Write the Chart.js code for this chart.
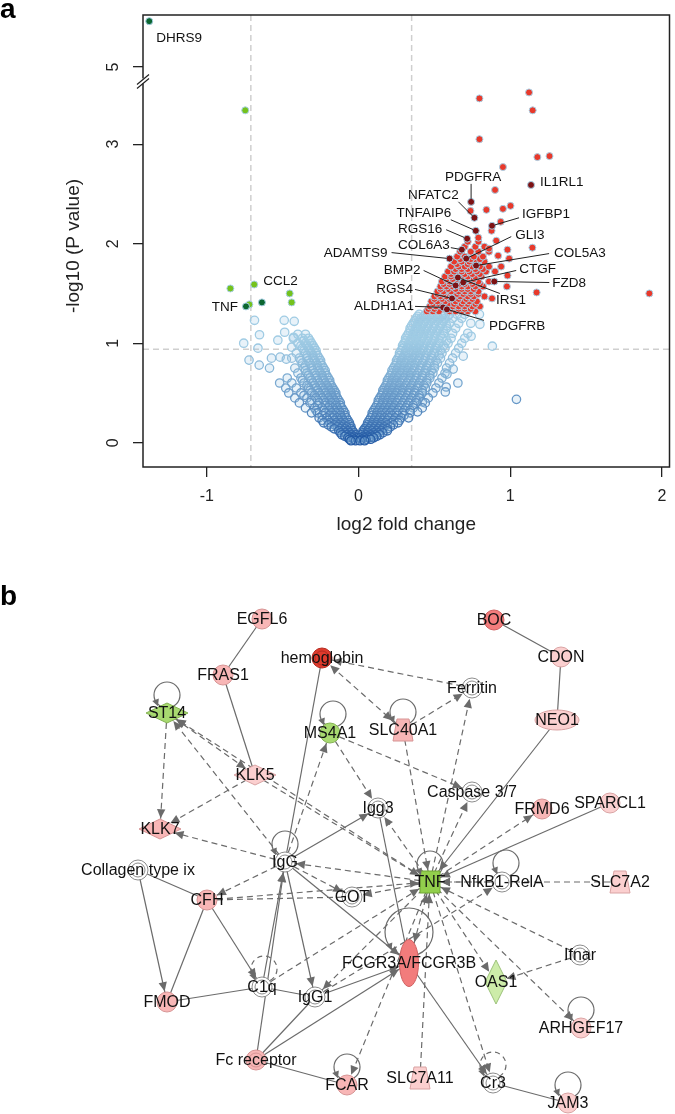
<!DOCTYPE html>
<html>
<head>
    <meta charset="utf-8">
    <title>Volcano plot and IPA network</title>
    <script src="https://cdn.jsdelivr.net/npm/chart.js@4.4.1/dist/chart.umd.min.js"></script>
    <style>
        body { margin: 0; background: #fff; }
        #wrap { position: relative; width: 675px; height: 1114px; }
        canvas { position: absolute; left: 0; }
        #volcano { top: 0; }
        #network { top: 560px; }
    </style>
</head>
<body>
<div id="wrap">
    <canvas id="volcano" width="675" height="560"></canvas>
    <canvas id="network" width="675" height="554"></canvas>
</div>

<script>
    // ---------------- panel a : volcano plot ----------------
    const xTicks = [-1, 0, 1, 2];
    const yTicks = [0, 1, 2, 3, 5];
    const fcCut = [-0.71, 0.35];
    const pCut = 0.94;

    // non significant genes, rows of [-log10 p, [log2 fc, ...]]
    const leftArmRows = [
        [0.02, [-0.02, -0.05]],
        [0.035, [-0.03, -0.06]],
        [0.05, [-0.01, -0.04, -0.07]],
        [0.065, [-0.03, -0.06, -0.09]],
        [0.08, [-0.02, -0.05, -0.08, -0.11]],
        [0.10, [-0.03, -0.06, -0.09, -0.12]],
        [0.12, [-0.04, -0.07, -0.10, -0.13]],
        [0.14, [-0.05, -0.09, -0.12, -0.16]],
        [0.16, [-0.05, -0.08, -0.11, -0.14, -0.18]],
        [0.18, [-0.06, -0.10, -0.13, -0.16, -0.20]],
        [0.20, [-0.06, -0.09, -0.12, -0.15, -0.19, -0.23]],
        [0.225, [-0.07, -0.10, -0.13, -0.16, -0.20, -0.24]],
        [0.25, [-0.08, -0.11, -0.14, -0.17, -0.21, -0.26]],
        [0.275, [-0.09, -0.12, -0.16, -0.19, -0.24]],
        [0.30, [-0.09, -0.12, -0.15, -0.18, -0.22, -0.27, -0.31]],
        [0.325, [-0.10, -0.13, -0.16, -0.19, -0.23, -0.28]],
        [0.35, [-0.11, -0.14, -0.17, -0.20, -0.24, -0.29, -0.35]],
        [0.375, [-0.12, -0.15, -0.19, -0.22, -0.27]],
        [0.40, [-0.12, -0.15, -0.18, -0.22, -0.26, -0.32, -0.39]],
        [0.425, [-0.13, -0.16, -0.19, -0.23, -0.27, -0.31]],
        [0.45, [-0.14, -0.17, -0.20, -0.24, -0.28, -0.34, -0.42]],
        [0.475, [-0.15, -0.18, -0.21, -0.25, -0.29, -0.36]],
        [0.50, [-0.15, -0.18, -0.22, -0.26, -0.31, -0.38, -0.46]],
        [0.525, [-0.16, -0.19, -0.23, -0.27, -0.32]],
        [0.55, [-0.17, -0.20, -0.24, -0.28, -0.33, -0.41, -0.48]],
        [0.575, [-0.18, -0.21, -0.25, -0.29, -0.34]],
        [0.60, [-0.19, -0.22, -0.26, -0.30, -0.36, -0.44]],
        [0.625, [-0.19, -0.23, -0.27, -0.31, -0.37]],
        [0.65, [-0.20, -0.24, -0.28, -0.32, -0.38, -0.47]],
        [0.675, [-0.21, -0.24, -0.28, -0.33]],
        [0.70, [-0.22, -0.25, -0.29, -0.34, -0.40]],
        [0.725, [-0.22, -0.26, -0.30, -0.35]],
        [0.75, [-0.23, -0.27, -0.31, -0.36, -0.42]],
        [0.775, [-0.24, -0.27, -0.31, -0.35]],
        [0.80, [-0.25, -0.28, -0.32, -0.37]],
        [0.825, [-0.25, -0.29, -0.33, -0.38]],
        [0.85, [-0.26, -0.30, -0.34, -0.39, -0.44]],
        [0.875, [-0.27, -0.30, -0.34]],
        [0.90, [-0.28, -0.31, -0.35, -0.41]],
        [0.925, [-0.28, -0.32, -0.36]],
        [0.95, [-0.29, -0.33, -0.37]],
        [0.975, [-0.30, -0.34, -0.38]],
        [1.00, [-0.31, -0.35, -0.40]],
        [1.025, [-0.32, -0.36]],
        [1.05, [-0.33, -0.37, -0.43]],
        [1.09, [-0.35, -0.40]]
    ];
    const rightArmRows = [
        [0.02, [0.01, 0.04]],
        [0.035, [0.02, 0.05, 0.08]],
        [0.05, [0.01, 0.04, 0.07, 0.10]],
        [0.065, [0.03, 0.06, 0.09, 0.12]],
        [0.08, [0.02, 0.05, 0.08, 0.11, 0.14]],
        [0.10, [0.03, 0.06, 0.10, 0.13, 0.16]],
        [0.12, [0.03, 0.06, 0.09, 0.12, 0.15, 0.19]],
        [0.14, [0.04, 0.07, 0.10, 0.13, 0.16, 0.19]],
        [0.16, [0.05, 0.08, 0.11, 0.14, 0.17, 0.21]],
        [0.18, [0.06, 0.09, 0.12, 0.15, 0.19, 0.23]],
        [0.20, [0.06, 0.09, 0.12, 0.15, 0.18, 0.22, 0.26]],
        [0.225, [0.07, 0.10, 0.13, 0.16, 0.19, 0.23, 0.27]],
        [0.25, [0.08, 0.11, 0.14, 0.17, 0.20, 0.24, 0.28, 0.33]],
        [0.275, [0.09, 0.12, 0.15, 0.19, 0.22, 0.26, 0.30]],
        [0.30, [0.09, 0.12, 0.15, 0.18, 0.21, 0.25, 0.29, 0.34]],
        [0.325, [0.10, 0.13, 0.16, 0.19, 0.22, 0.26, 0.30, 0.34]],
        [0.35, [0.11, 0.14, 0.17, 0.20, 0.23, 0.27, 0.31, 0.36, 0.42]],
        [0.375, [0.12, 0.15, 0.18, 0.21, 0.24, 0.28, 0.32, 0.36]],
        [0.40, [0.13, 0.16, 0.19, 0.22, 0.25, 0.29, 0.33, 0.38, 0.44]],
        [0.425, [0.13, 0.16, 0.19, 0.22, 0.26, 0.30, 0.34, 0.38]],
        [0.45, [0.14, 0.17, 0.20, 0.23, 0.27, 0.31, 0.35, 0.40, 0.46]],
        [0.475, [0.15, 0.18, 0.21, 0.24, 0.28, 0.32, 0.36, 0.40]],
        [0.50, [0.16, 0.19, 0.22, 0.25, 0.29, 0.33, 0.37, 0.42, 0.49]],
        [0.525, [0.16, 0.19, 0.22, 0.26, 0.29, 0.33, 0.37, 0.42]],
        [0.55, [0.17, 0.20, 0.23, 0.27, 0.30, 0.34, 0.39, 0.44, 0.51]],
        [0.575, [0.18, 0.21, 0.24, 0.27, 0.31, 0.35, 0.39, 0.43]],
        [0.60, [0.19, 0.22, 0.25, 0.28, 0.32, 0.36, 0.40, 0.45, 0.53]],
        [0.625, [0.19, 0.22, 0.25, 0.29, 0.33, 0.37, 0.41, 0.45]],
        [0.65, [0.20, 0.23, 0.26, 0.30, 0.34, 0.38, 0.42, 0.47, 0.55]],
        [0.675, [0.21, 0.24, 0.27, 0.31, 0.34, 0.38, 0.42, 0.47]],
        [0.70, [0.22, 0.25, 0.28, 0.32, 0.35, 0.39, 0.44, 0.49, 0.57]],
        [0.725, [0.22, 0.25, 0.29, 0.32, 0.36, 0.40, 0.44, 0.48]],
        [0.75, [0.23, 0.26, 0.30, 0.33, 0.37, 0.41, 0.45, 0.50, 0.58]],
        [0.775, [0.24, 0.27, 0.30, 0.34, 0.37, 0.41, 0.45, 0.50]],
        [0.80, [0.25, 0.28, 0.31, 0.35, 0.38, 0.42, 0.47, 0.52, 0.60]],
        [0.825, [0.25, 0.28, 0.32, 0.35, 0.39, 0.43, 0.47, 0.51]],
        [0.85, [0.26, 0.29, 0.33, 0.36, 0.40, 0.44, 0.48, 0.54, 0.62]],
        [0.875, [0.27, 0.30, 0.33, 0.37, 0.40, 0.44, 0.48, 0.53]],
        [0.90, [0.27, 0.31, 0.34, 0.38, 0.41, 0.45, 0.50, 0.55, 0.64]],
        [0.925, [0.28, 0.31, 0.35, 0.38, 0.42, 0.46, 0.50, 0.54]],
        [0.95, [0.29, 0.32, 0.36, 0.39, 0.43, 0.47, 0.51, 0.57, 0.66]],
        [0.975, [0.29, 0.33, 0.36, 0.40, 0.43, 0.47, 0.51, 0.56]],
        [1.00, [0.30, 0.33, 0.37, 0.40, 0.44, 0.48, 0.53, 0.59, 0.68]],
        [1.025, [0.31, 0.34, 0.38, 0.41, 0.45, 0.49, 0.53, 0.58]],
        [1.05, [0.31, 0.35, 0.38, 0.42, 0.46, 0.50, 0.55, 0.61, 0.70]],
        [1.075, [0.32, 0.36, 0.39, 0.43, 0.46, 0.50, 0.54]],
        [1.10, [0.33, 0.36, 0.40, 0.43, 0.47, 0.51, 0.56, 0.62, 0.72]],
        [1.125, [0.34, 0.37, 0.41, 0.44, 0.48, 0.52, 0.56]],
        [1.15, [0.34, 0.38, 0.41, 0.45, 0.49, 0.53, 0.58, 0.64]],
        [1.175, [0.35, 0.39, 0.42, 0.46, 0.50, 0.54, 0.58]],
        [1.20, [0.36, 0.39, 0.43, 0.46, 0.50, 0.55, 0.60, 0.66, 0.74]],
        [1.225, [0.37, 0.40, 0.44, 0.48, 0.52, 0.56]],
        [1.25, [0.38, 0.41, 0.45, 0.49, 0.53, 0.57, 0.62, 0.68]],
        [1.27, [0.39, 0.43, 0.47, 0.51, 0.55, 0.59]],
        [1.29, [0.40, 0.44, 0.48, 0.52, 0.56, 0.60, 0.65, 0.70]]
    ];
    const nsOutliers = [
        [-0.686, 1.23], [-0.49, 1.23], [-0.424, 1.22], [-0.653, 1.085], [-0.487, 1.11],
        [-0.532, 1.03], [-0.757, 1.00], [-0.663, 0.95], [-0.722, 0.83], [-0.655, 0.78],
        [-0.587, 0.75], [-0.574, 0.85], [-0.517, 0.86], [-0.476, 0.84], [-0.52, 0.60],
        [-0.428, 1.06], [-0.441, 0.96],
        [1.041, 0.436], [0.882, 0.97], [0.69, 0.87], [0.80, 1.19], [0.797, 1.29],
        [0.742, 1.07], [0.655, 0.60], [0.624, 0.74], [0.583, 0.69], [0.572, 0.51],
        [0.389, 0.31], [0.421, 0.41], [0.578, 0.56]
    ];

    // significantly up regulated (red)
    const upRows = [
        [1.32, [0.45, 0.49, 0.53, 0.60, 0.64, 0.68, 0.72, 0.77]],
        [1.345, [0.46, 0.50, 0.57, 0.61, 0.66, 0.70, 0.74]],
        [1.37, [0.47, 0.51, 0.55, 0.62, 0.66, 0.70, 0.75, 0.80]],
        [1.395, [0.49, 0.53, 0.59, 0.63, 0.68, 0.72, 0.77]],
        [1.42, [0.48, 0.52, 0.57, 0.64, 0.69, 0.73, 0.78]],
        [1.445, [0.50, 0.55, 0.60, 0.66, 0.71, 0.75]],
        [1.47, [0.50, 0.54, 0.58, 0.63, 0.67, 0.72, 0.76, 0.83]],
        [1.495, [0.52, 0.56, 0.61, 0.65, 0.69, 0.74, 0.79]],
        [1.52, [0.52, 0.56, 0.61, 0.66, 0.70, 0.74, 0.79]],
        [1.545, [0.54, 0.59, 0.64, 0.68, 0.72, 0.76]],
        [1.57, [0.54, 0.58, 0.62, 0.68, 0.72, 0.77, 0.82]],
        [1.595, [0.56, 0.60, 0.66, 0.70, 0.75, 0.80]],
        [1.62, [0.55, 0.60, 0.64, 0.70, 0.74, 0.79, 0.86]],
        [1.645, [0.58, 0.62, 0.68, 0.72, 0.76]],
        [1.67, [0.57, 0.61, 0.66, 0.72, 0.77, 0.81]],
        [1.695, [0.61, 0.65, 0.70, 0.75, 0.80]],
        [1.72, [0.59, 0.63, 0.68, 0.73, 0.78, 0.84, 0.90]],
        [1.745, [0.64, 0.68, 0.72, 0.77, 0.82]],
        [1.77, [0.61, 0.66, 0.70, 0.75, 0.80, 0.86]],
        [1.795, [0.65, 0.72, 0.77]],
        [1.82, [0.63, 0.68, 0.73, 0.78, 0.83]],
        [1.845, [0.67, 0.74, 0.80]],
        [1.87, [0.65, 0.70, 0.76, 0.82]],
        [1.92, [0.67, 0.74, 0.79, 0.86]],
        [1.97, [0.70, 0.77, 0.83]],
        [2.02, [0.72, 0.79]]
    ];
    const upScattered = [
        [1.124, 3.52], [1.148, 3.34], [0.797, 3.46], [0.797, 3.05], [1.179, 2.87], [1.259, 2.88],
        [0.952, 2.77], [0.90, 2.54], [0.738, 2.33], [0.843, 2.34], [0.952, 2.35], [1.002, 2.38],
        [0.937, 2.22], [0.877, 2.13], [0.79, 2.06], [0.908, 2.03], [1.146, 1.96], [0.982, 1.94],
        [0.993, 1.85], [0.94, 1.77], [0.982, 1.68], [1.174, 1.51], [0.978, 1.57], [1.917, 1.50],
        [0.88, 1.45], [0.86, 1.95], [0.92, 1.88]
    ];
    // significantly down regulated (green)
    const downGenes = [[-0.845, 1.55], [-0.72, 1.39], [-0.454, 1.50], [-0.441, 1.41], [-0.747, 3.34]];
    const downMarked = [[-0.637, 1.41]];

    // named genes
    const namedGenes = ['DHRS9', 'TNF', 'CCL2', 'IL1RL1', 'PDGFRA', 'NFATC2', 'IGFBP1', 'TNFAIP6', 'RGS16', 'COL6A3',
        'GLI3', 'ADAMTS9', 'COL5A3', 'CTGF', 'IRS1', 'BMP2', 'FZD8', 'RGS4', 'ALDH1A1', 'PDGFRB'];
    const namedFC = [-1.38, -0.742, -0.688, 1.137, 0.742, 0.764, 0.88, 0.773, 0.716, 0.681,
        0.71, 0.60, 0.775, 0.69, 0.655, 0.64, 0.895, 0.616, 0.557, 0.583];
    const namedP = [5.46, 1.37, 1.59, 2.59, 2.42, 2.26, 2.18, 2.13, 2.05, 1.94,
        1.85, 1.85, 1.78, 1.61, 1.66, 1.58, 1.62, 1.45, 1.36, 1.34];
    const namedMarked = [1, 1, 0, 1, 1, 1, 1, 1, 1, 1, 1, 1, 1, 1, 1, 1, 1, 1, 1, 1];

    // label placement, pixel offsets from the point (text anchor, leader start)
    const labelLayout = {
        DHRS9:   { dx: 7, dy: 17, align: 'left' },
        TNF:     { dx: -8, dy: 1, align: 'right' },
        CCL2:    { dx: 9, dy: -3, align: 'left' },
        IL1RL1:  { dx: 9, dy: -3, align: 'left' },
        PDGFRA:  { dx: 2, dy: -25, align: 'center', lx: 0, ly: -18 },
        NFATC2:  { dx: -41, dy: -23, align: 'center', lx: -16, ly: -16 },
        TNFAIP6: { dx: -52, dy: -17, align: 'center', lx: -25, ly: -11 },
        IGFBP1:  { dx: 30, dy: -11, align: 'left', lx: 27, ly: -8 },
        RGS16:   { dx: -47, dy: -9, align: 'center', lx: -21, ly: -9 },
        GLI3:    { dx: 49, dy: -23, align: 'left', lx: 45, ly: -22 },
        COL6A3:  { dx: -38, dy: -4, align: 'center', lx: -11, ly: -2 },
        ADAMTS9: { dx: -62, dy: -5, align: 'right', lx: -58, ly: -6 },
        COL5A3:  { dx: 78, dy: -12, align: 'left', lx: 73, ly: -12 },
        CTGF:    { dx: 56, dy: -13, align: 'left', lx: 53, ly: -12 },
        IRS1:    { dx: 38, dy: 23, align: 'left', lx: 42, ly: 16 },
        BMP2:    { dx: -35, dy: -15, align: 'right', lx: -32, ly: -15 },
        FZD8:    { dx: 58, dy: 2, align: 'left', lx: 55, ly: 1 },
        RGS4:    { dx: -39, dy: -9, align: 'right', lx: -37, ly: -9 },
        ALDH1A1: { dx: -29, dy: -1, align: 'right', lx: -28, ly: -1 },
        PDGFRB:  { dx: 42, dy: 17, align: 'left', lx: 37, ly: 11 }
    };

    // broken y axis: values above the break are moved down so 5 sits just above 3.7
    function brk(v) { return v > 4 ? v - 5 + 3.776 : v; }

    function pts(list) { return list.map(p => ({ x: p[0], y: brk(p[1]) })); }
    function rowPts(rows) {
        const out = [];
        rows.forEach(r => r[1].forEach(fc => out.push({ x: fc, y: r[0] })));
        return out;
    }

    let nsPoints = rowPts(leftArmRows).concat(rowPts(rightArmRows), pts(nsOutliers));
    nsPoints.sort((a, b) => b.y - a.y);

    function nsColour(ctx) {
        const v = ctx.raw ? ctx.raw.y : 1;
        const k = Math.pow(Math.min(1, Math.max(0, v / 1.0)), 0.65);
        const a = [22, 78, 158], b = [160, 204, 228];
        return 'rgb(' + a.map((c, i) => Math.round(c + (b[i] - c) * k)).join(',') + ')';
    }

    const namedUp = [], namedDown = [], namedLight = [];
    namedGenes.forEach((g, i) => {
        const p = { x: namedFC[i], y: brk(namedP[i]) };
        if (!namedMarked[i]) namedLight.push(p);
        else if (namedFC[i] > 0) namedUp.push(p);
        else namedDown.push(p);
    });

    const FONT = '"Liberation Sans", Arial, Helvetica, sans-serif';

    const volcanoDecor = {
        id: 'volcanoDecor',
        beforeDatasetsDraw(chart) {
            const { ctx, chartArea: a, scales: { x, y } } = chart;
            ctx.save();
            ctx.strokeStyle = '#cfcfcf';
            ctx.lineWidth = 1.5;
            ctx.setLineDash([6, 4]);
            fcCut.forEach(v => {
                const px = x.getPixelForValue(v);
                ctx.beginPath(); ctx.moveTo(px, a.top); ctx.lineTo(px, a.bottom); ctx.stroke();
            });
            const py = y.getPixelForValue(pCut);
            ctx.beginPath(); ctx.moveTo(a.left, py); ctx.lineTo(a.right, py); ctx.stroke();
            ctx.restore();
        },
        afterDatasetsDraw(chart) {
            const { ctx, scales: { x, y } } = chart;
            ctx.save();
            ctx.font = '13.5px ' + FONT;
            ctx.fillStyle = '#111';
            ctx.strokeStyle = '#222';
            ctx.lineWidth = 1;
            ctx.textBaseline = 'middle';
            namedGenes.forEach((g, i) => {
                const lay = labelLayout[g];
                if (!lay) return;
                const px = x.getPixelForValue(namedFC[i]);
                const py = y.getPixelForValue(brk(namedP[i]));
                if (lay.lx !== undefined) {
                    const sx = px + lay.lx, sy = py + lay.ly;
                    const d = Math.hypot(px - sx, py - sy);
                    ctx.beginPath();
                    ctx.moveTo(sx, sy);
                    ctx.lineTo(px - (px - sx) * 3 / d, py - (py - sy) * 3 / d);
                    ctx.stroke();
                }
                ctx.textAlign = lay.align;
                ctx.fillText(g, px + lay.dx, py + lay.dy);
            });
            ctx.restore();
        },
        afterDraw(chart) {
            const { ctx, chartArea: a, scales: { x, y } } = chart;
            ctx.save();
            ctx.strokeStyle = '#222';
            ctx.lineWidth = 1.5;
            ctx.strokeRect(a.left, a.top, a.right - a.left, a.bottom - a.top);

            // axis break
            const yb = y.getPixelForValue(3.64);
            ctx.fillStyle = '#fff';
            ctx.fillRect(a.left - 2, yb - 2, 4, 5);
            ctx.lineWidth = 1.2;
            ctx.beginPath();
            ctx.moveTo(a.left - 6, yb + 4); ctx.lineTo(a.left + 6, yb - 6);
            ctx.moveTo(a.left - 6, yb + 8); ctx.lineTo(a.left + 6, yb - 2);
            ctx.stroke();

            ctx.fillStyle = '#222';
            ctx.font = '16px ' + FONT;
            ctx.textAlign = 'center';
            ctx.textBaseline = 'middle';
            xTicks.forEach(v => ctx.fillText(String(v), x.getPixelForValue(v), a.bottom + 30));
            yTicks.forEach(v => {
                ctx.save();
                ctx.translate(a.left - 29, y.getPixelForValue(brk(v)));
                ctx.rotate(-Math.PI / 2);
                ctx.fillText(String(v), 0, 0);
                ctx.restore();
            });

            ctx.font = '19px ' + FONT;
            ctx.fillText('log2 fold change', (a.left + a.right) / 2, 525);
            ctx.save();
            ctx.translate(74, 246);
            ctx.rotate(-Math.PI / 2);
            ctx.fillText('-log10 (P value)', 0, 0);
            ctx.restore();

            ctx.font = 'bold 28px ' + FONT;
            ctx.textAlign = 'left';
            ctx.textBaseline = 'alphabetic';
            ctx.fillStyle = '#000';
            ctx.fillText('a', 0, 18);
            ctx.restore();
        }
    };

    new Chart(document.getElementById('volcano'), {
        type: 'scatter',
        data: {
            datasets: [
                { data: namedUp, backgroundColor: '#7d1214', borderColor: '#a8d0e6', borderWidth: 1, pointRadius: 3.5, order: 1 },
                { data: namedDown.concat(pts(downMarked)), backgroundColor: '#0b6630', borderColor: '#a8d0e6', borderWidth: 1, pointRadius: 3.5, order: 1 },
                { data: rowPts(upRows).concat(pts(upScattered)), backgroundColor: '#e8392b', borderColor: '#a8d0e6', borderWidth: 1, pointRadius: 3.5, order: 2 },
                { data: pts(downGenes).concat(namedLight), backgroundColor: '#74c21c', borderColor: '#a8d0e6', borderWidth: 1, pointRadius: 3.5, order: 2 },
                { data: nsPoints, backgroundColor: 'rgba(150,196,226,0.22)', borderColor: nsColour, borderWidth: 1.3, pointRadius: 4.2, order: 5 }
            ]
        },
        options: {
            responsive: false,
            animation: false,
            events: [],
            layout: { padding: { left: 0, right: 2, top: 15, bottom: 0 } },
            plugins: { legend: { display: false }, tooltip: { enabled: false } },
            scales: {
                x: {
                    type: 'linear', min: -1.421, max: 2.05,
                    afterBuildTicks: s => { s.ticks = xTicks.map(v => ({ value: v })); },
                    afterFit: s => { s.height = 93; },
                    ticks: { display: false },
                    border: { display: false },
                    grid: { drawOnChartArea: false, drawTicks: true, tickLength: 10, color: '#222', lineWidth: 1.3 }
                },
                y: {
                    type: 'linear', min: -0.244, max: 4.298,
                    afterBuildTicks: s => { s.ticks = yTicks.map(v => ({ value: brk(v) })); },
                    afterFit: s => { s.width = 143; },
                    ticks: { display: false },
                    border: { display: false },
                    grid: { drawOnChartArea: false, drawTicks: true, tickLength: 10, color: '#222', lineWidth: 1.3 }
                }
            }
        },
        plugins: [volcanoDecor]
    });

    // ---------------- panel b : network ----------------
    const nodeNames = ['EGFL6', 'FRAS1', 'hemoglobin', 'BOC', 'CDON', 'Ferritin', 'SLC40A1', 'NEO1', 'ST14', 'MS4A1',
        'KLK5', 'Caspase 3/7', 'Igg3', 'FRMD6', 'SPARCL1', 'KLK7', 'IgG', 'Collagen type ix', 'TNF', 'NfkB1-RelA',
        'SLC7A2', 'CFH', 'GOT', 'Ifnar', 'FCGR3A/FCGR3B', 'OAS1', 'C1q', 'IgG1', 'FMOD', 'ARHGEF17',
        'Fc receptor', 'SLC7A11', 'Cr3', 'FCAR', 'JAM3'];
    const nodeX = [262, 223, 322, 494, 561, 472, 403, 557, 167, 330,
        255, 472, 378, 542, 610, 160, 285, 138, 430, 502,
        620, 207, 352, 580, 409, 496, 262, 315, 167, 581,
        256, 420, 493, 347, 568];
    const nodeY = [619, 675, 658, 620, 657, 688, 730, 720, 713, 733,
        775, 792, 808, 809, 803, 829, 862, 870, 882, 882,
        882, 900, 897, 955, 963, 982, 987, 997, 1002, 1028,
        1060, 1078, 1083, 1085, 1103];
    const nodeType = ['other', 'other', 'complex', 'other', 'other', 'complex', 'transporter', 'oval', 'peptidase', 'other',
        'peptidase', 'complex', 'complex', 'other', 'other', 'peptidase', 'complex', 'complex', 'cytokine', 'complex',
        'transporter', 'other', 'complex', 'complex', 'receptor', 'enzyme', 'complex', 'complex', 'other', 'other',
        'complex', 'transporter', 'complex', 'other', 'other'];
    const nodeReg = ['up2', 'up2', 'up4', 'up3', 'up1', 'none', 'up2', 'up1', 'down2', 'down2',
        'up1', 'none', 'none', 'up2', 'up1', 'up2', 'none', 'none', 'down3', 'none',
        'up1', 'up2', 'none', 'none', 'up3', 'down1', 'none', 'none', 'up2', 'up1',
        'up2', 'up1', 'none', 'up2', 'up1'];

    // [source, target, relation, arrowheads (0 none, 1 target, 2 both)]
    const edges = [
        ['EGFL6', 'FRAS1', 'direct', 0], ['FRAS1', 'KLK5', 'direct', 0], ['BOC', 'CDON', 'direct', 0],
        ['CDON', 'NEO1', 'direct', 0], ['NEO1', 'TNF', 'direct', 1], ['SPARCL1', 'TNF', 'direct', 1],
        ['hemoglobin', 'IgG', 'direct', 0], ['Ferritin', 'hemoglobin', 'indirect', 1],
        ['SLC40A1', 'hemoglobin', 'indirect', 2], ['SLC40A1', 'Ferritin', 'indirect', 1],
        ['SLC40A1', 'TNF', 'indirect', 1], ['TNF', 'Ferritin', 'indirect', 1], ['TNF', 'Caspase 3/7', 'indirect', 1],
        ['MS4A1', 'Caspase 3/7', 'indirect', 1], ['MS4A1', 'Igg3', 'indirect', 1], ['IgG', 'MS4A1', 'indirect', 1],
        ['ST14', 'KLK7', 'indirect', 1], ['ST14', 'KLK5', 'indirect', 2], ['KLK5', 'KLK7', 'indirect', 1],
        ['IgG', 'ST14', 'indirect', 1], ['TNF', 'ST14', 'indirect', 1], ['KLK5', 'TNF', 'indirect', 1],
        ['IgG', 'KLK7', 'indirect', 1], ['IgG', 'CFH', 'indirect', 1], ['CFH', 'TNF', 'indirect', 1],
        ['CFH', 'GOT', 'indirect', 0], ['Collagen type ix', 'CFH', 'direct', 0],
        ['Collagen type ix', 'FMOD', 'direct', 1], ['CFH', 'FMOD', 'direct', 0], ['CFH', 'C1q', 'direct', 1],
        ['FMOD', 'C1q', 'direct', 0], ['C1q', 'IgG1', 'direct', 0], ['C1q', 'IgG', 'direct', 1],
        ['Fc receptor', 'IgG', 'direct', 1], ['IgG', 'IgG1', 'direct', 1], ['IgG', 'Igg3', 'direct', 1],
        ['IgG', 'FCGR3A/FCGR3B', 'direct', 1], ['TNF', 'IgG', 'indirect', 1], ['IgG', 'GOT', 'indirect', 1],
        ['TNF', 'GOT', 'indirect', 1], ['Igg3', 'FCGR3A/FCGR3B', 'direct', 0], ['TNF', 'Igg3', 'indirect', 1],
        ['Fc receptor', 'IgG1', 'direct', 0], ['Fc receptor', 'FCGR3A/FCGR3B', 'direct', 1],
        ['Fc receptor', 'FCAR', 'direct', 0], ['IgG1', 'FCGR3A/FCGR3B', 'direct', 1],
        ['FCGR3A/FCGR3B', 'TNF', 'indirect', 2], ['TNF', 'FCAR', 'indirect', 1], ['SLC7A11', 'TNF', 'indirect', 1],
        ['TNF', 'Cr3', 'indirect', 1], ['FCGR3A/FCGR3B', 'Cr3', 'direct', 1], ['Cr3', 'JAM3', 'direct', 0],
        ['TNF', 'OAS1', 'indirect', 1], ['Ifnar', 'OAS1', 'indirect', 1], ['Ifnar', 'TNF', 'indirect', 1],
        ['TNF', 'ARHGEF17', 'indirect', 1], ['SLC7A2', 'TNF', 'indirect', 1], ['NfkB1-RelA', 'TNF', 'indirect', 1],
        ['IgG1', 'NfkB1-RelA', 'indirect', 1], ['TNF', 'FRMD6', 'indirect', 1], ['TNF', 'IgG1', 'indirect', 1],
        ['C1q', 'TNF', 'indirect', 1]
    ];
    const selfLoops = ['ST14', 'MS4A1', 'SLC40A1', 'IgG', 'C1q', 'TNF', 'NfkB1-RelA', 'FCGR3A/FCGR3B', 'ARHGEF17', 'FCAR', 'Cr3', 'JAM3'];
    const selfLoopIndirect = [false, false, false, false, true, false, false, false, false, false, true, false];

    // styles
    const regFill = {
        up1: '#fbcfcf', up2: '#f8b6b6', up3: '#f27c7c', up4: '#de3a2c',
        down1: '#cdeca9', down2: '#a8da70', down3: '#92cf4c', none: '#ffffff'
    };
    const regStroke = {
        up1: '#d9a3a3', up2: '#d69494', up3: '#cf6060', up4: '#b52a20',
        down1: '#9cc27a', down2: '#84b253', down3: '#6fa533', none: '#8c8c8c'
    };
    const shapeSize = {
        other: [10, 10], complex: [10, 10], peptidase: [21, 10], enzyme: [11, 22], cytokine: [10, 11],
        transporter: [10, 11], receptor: [9.5, 23.5], oval: [22, 10]
    };
    const loopSize = { 'FCGR3A/FCGR3B': [24, -31, 0], 'MS4A1': [13, -19, 3], 'NfkB1-RelA': [13, -19, 4], 'C1q': [13, -18, 2] };
    const EDGE = '#6b6b6b';

    const idx = {};
    nodeNames.forEach((n, i) => { idx[n] = i; });

    // distance from node centre to its outline in direction (ux, uy)
    function outline(i, ux, uy) {
        const t = nodeType[i], s = shapeSize[t];
        const ax = Math.abs(ux) + 1e-9, ay = Math.abs(uy) + 1e-9;
        if (t === 'peptidase' || t === 'enzyme') return 1 / (ax / s[0] + ay / s[1]);
        if (t === 'cytokine' || t === 'transporter') return Math.min(s[0] / ax, s[1] / ay);
        return 1 / Math.sqrt((ux / s[0]) ** 2 + (uy / s[1]) ** 2);
    }

    function arrowHead(ctx, tx, ty, ux, uy, len, half) {
        ctx.beginPath();
        ctx.moveTo(tx, ty);
        ctx.lineTo(tx - ux * len - uy * half, ty - uy * len + ux * half);
        ctx.lineTo(tx - ux * len + uy * half, ty - uy * len - ux * half);
        ctx.closePath();
        ctx.fill();
    }

    function drawNode(ctx, i, px, py) {
        const t = nodeType[i], s = shapeSize[t];
        ctx.fillStyle = regFill[nodeReg[i]];
        ctx.strokeStyle = regStroke[nodeReg[i]];
        ctx.lineWidth = 1;
        ctx.setLineDash([]);
        ctx.beginPath();
        if (t === 'peptidase' || t === 'enzyme') {
            ctx.moveTo(px, py - s[1]); ctx.lineTo(px + s[0], py); ctx.lineTo(px, py + s[1]); ctx.lineTo(px - s[0], py);
            ctx.closePath();
        } else if (t === 'cytokine') {
            ctx.rect(px - s[0], py - s[1], 2 * s[0], 2 * s[1]);
        } else if (t === 'transporter') {
            ctx.moveTo(px - 6, py - s[1]); ctx.lineTo(px + 6, py - s[1]);
            ctx.lineTo(px + s[0], py + s[1]); ctx.lineTo(px - s[0], py + s[1]);
            ctx.closePath();
        } else {
            ctx.ellipse(px, py, s[0], s[1], 0, 0, Math.PI * 2);
        }
        ctx.fill();
        ctx.stroke();
        if (t === 'complex') {
            ctx.beginPath();
            ctx.arc(px, py, 7, 0, Math.PI * 2);
            ctx.stroke();
        }
    }

    const networkDecor = {
        id: 'networkDecor',
        afterDatasetsDraw(chart) {
            const { ctx, scales: { x, y } } = chart;
            const P = i => [x.getPixelForValue(nodeX[i]), y.getPixelForValue(nodeY[i])];
            ctx.save();

            // self loops
            selfLoops.forEach((n, k) => {
                const i = idx[n], p = P(i);
                const ls = loopSize[n] || [13, -18, 0];
                const cx = p[0] + ls[2], cy = p[1] + ls[1], r = ls[0];
                ctx.strokeStyle = EDGE;
                ctx.lineWidth = 1.2;
                ctx.setLineDash(selfLoopIndirect[k] ? [5, 4] : []);
                ctx.beginPath();
                ctx.arc(cx, cy, r, 0, Math.PI * 2);
                ctx.stroke();
            });

            // nodes
            nodeNames.forEach((n, i) => { const p = P(i); drawNode(ctx, i, p[0], p[1]); });

            // arrowheads
            ctx.fillStyle = EDGE;
            edges.forEach(e => {
                const a = idx[e[0]], b = idx[e[1]];
                const pa = P(a), pb = P(b);
                const d = Math.hypot(pb[0] - pa[0], pb[1] - pa[1]);
                const ux = (pb[0] - pa[0]) / d, uy = (pb[1] - pa[1]) / d;
                if (e[3] >= 1) {
                    const r = outline(b, ux, uy) + 1;
                    arrowHead(ctx, pb[0] - ux * r, pb[1] - uy * r, ux, uy, 9, 4.2);
                }
                if (e[3] === 2) {
                    const r = outline(a, -ux, -uy) + 1;
                    arrowHead(ctx, pa[0] + ux * r, pa[1] + uy * r, -ux, -uy, 9, 4.2);
                }
            });
            selfLoops.forEach(n => {
                const i = idx[n], p = P(i);
                const ls = loopSize[n] || [13, -18, 0];
                const cx = p[0] + ls[2], cy = p[1] + ls[1], r = ls[0];
                const th = Math.PI * 0.78;
                arrowHead(ctx, cx + r * Math.cos(th) + 1, cy + r * Math.sin(th) + 3, 0.35, 0.94, 7, 3.5);
            });

            // labels
            ctx.fillStyle = '#111';
            ctx.font = '16px ' + FONT;
            ctx.textAlign = 'center';
            ctx.textBaseline = 'middle';
            nodeNames.forEach((n, i) => { const p = P(i); ctx.fillText(n, p[0], p[1] + 1); });

            ctx.fillStyle = '#000';
            ctx.font = 'bold 28px ' + FONT;
            ctx.textAlign = 'left';
            ctx.textBaseline = 'alphabetic';
            ctx.fillText('b', 0, 45);
            ctx.restore();
        }
    };

    new Chart(document.getElementById('network'), {
        type: 'scatter',
        data: {
            datasets: edges.map(e => ({
                data: [{ x: nodeX[idx[e[0]]], y: nodeY[idx[e[0]]] }, { x: nodeX[idx[e[1]]], y: nodeY[idx[e[1]]] }],
                showLine: true,
                borderColor: EDGE,
                borderWidth: 1.2,
                borderDash: e[2] === 'indirect' ? [6, 4] : [],
                pointRadius: 0
            }))
        },
        options: {
            responsive: false,
            animation: false,
            events: [],
            layout: { padding: 0 },
            plugins: { legend: { display: false }, tooltip: { enabled: false } },
            scales: {
                x: { type: 'linear', min: 0, max: 675, display: false },
                y: { type: 'linear', min: 560, max: 1114, reverse: true, display: false }
            }
        },
        plugins: [networkDecor]
    });
</script>
</body>
</html>
